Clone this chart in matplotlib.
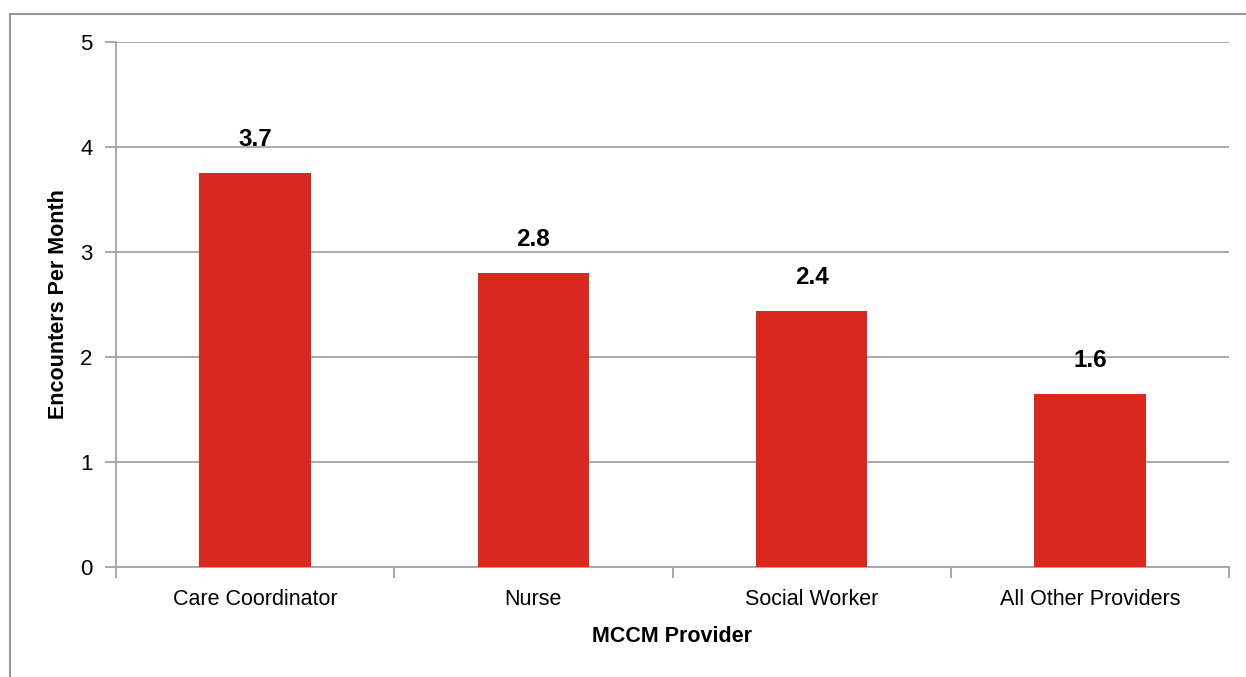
import matplotlib
matplotlib.use("Agg")
import matplotlib.pyplot as plt
from matplotlib.patches import Rectangle

# Data
providers = ["Care Coordinator", "Nurse", "Social Worker", "All Other Providers"]
encounters = [3.75, 2.80, 2.44, 1.65]
value_labels = ["3.7", "2.8", "2.4", "1.6"]
y_ticks = [0, 1, 2, 3, 4, 5]

BAR = "#d9291e"
GRID = "#a3a3a3"
INK = "#000000"

# narrow bold look of the source; falls back to Liberation Sans if missing
BOLD = ["Liberation Sans Narrow", "Liberation Sans"]
REGULAR = "Liberation Sans"

fig = plt.figure(figsize=(12.46, 6.77), dpi=100)
fig.patch.set_facecolor("white")

# outer frame, partly cut off at the right and bottom like the source image
fig.add_artist(Rectangle((9.5 / 1246, -0.1), 1.2, 1 - 13.5 / 677 + 0.1,
                         transform=fig.transFigure, fill=False,
                         edgecolor="#8c8c8c", linewidth=1.3))

ax = fig.add_axes([116 / 1246, 1 - 567 / 677, (1229 - 116) / 1246, (567 - 42) / 677])
x = list(range(len(providers)))
ax.bar(x, encounters, width=0.4, color=BAR, zorder=3)

for xi, v, lab in zip(x, encounters, value_labels):
    ax.annotate(lab, (xi, v), xytext=(0, 16), textcoords="offset points",
                ha="center", va="bottom", fontsize=17.5, fontweight="bold",
                family=BOLD, color=INK)

ax.set_xlim(-0.5, len(providers) - 0.5)
ax.set_ylim(0, 5)
ax.set_yticks(y_ticks)
ax.set_xticks([i - 0.5 for i in range(len(providers) + 1)])
ax.set_xticklabels([""] * (len(providers) + 1))
ax.set_xticks(x, minor=True)
ax.set_xticklabels(providers, minor=True)
ax.tick_params(axis="x", which="minor", length=0, pad=16, labelsize=15.5)
ax.tick_params(axis="x", which="major", length=8, width=1.3, color=GRID)
ax.tick_params(axis="y", length=8, width=1.3, color=GRID, pad=9, labelsize=16)
for lab in ax.get_xticklabels(minor=True) + ax.get_yticklabels():
    lab.set_family(REGULAR)

ax.grid(axis="y", color=GRID, linewidth=1.3, zorder=0)
for s in ("top", "right"):
    ax.spines[s].set_visible(False)
for s in ("left", "bottom"):
    ax.spines[s].set_color(GRID)
    ax.spines[s].set_linewidth(1.3)

ax.set_ylabel("Encounters Per Month", fontsize=15.5, fontweight="bold",
              family=BOLD)
ax.yaxis.set_label_coords(-(116 - 59) / 1113, 0.5)
ax.yaxis.label.set_va("center")
ax.set_xlabel("MCCM Provider", fontsize=15.5, fontweight="bold",
              family=BOLD)
ax.xaxis.set_label_coords(0.5, -(637 - 567) / 525)
ax.xaxis.label.set_va("center")

fig.savefig("out.png", dpi=100, facecolor="white")
